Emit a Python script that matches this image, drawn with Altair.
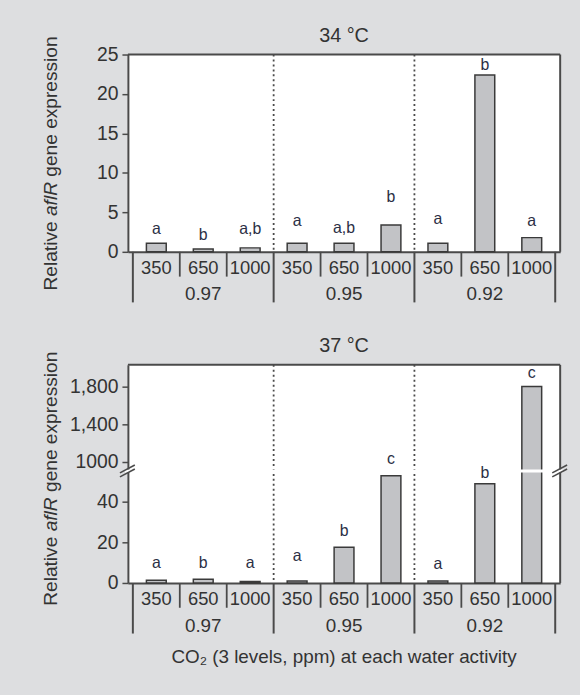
import altair as alt
import pandas as pd

# ---------------- data ----------------
groups = ["0.97", "0.95", "0.92"]
co2_levels = ["350", "650", "1000"]

vals_34 = [1.1, 0.35, 0.5, 1.1, 1.1, 3.4, 1.1, 22.4, 1.8]
letters_34 = ["a", "b", "a,b", "a", "a,b", "b", "a", "b", "a"]
letter_at_34 = [2.9, 2.1, 2.9, 3.9, 3.0, 7.0, 4.1, 23.7, 3.9]

vals_37 = [1.3, 1.8, 0.7, 1.0, 17.6, 52.7, 1.0, 48.8, 1800]
letters_37 = ["a", "b", "a", "a", "b", "c", "a", "b", "c"]
letter_at_37 = [9.8, 9.8, 9.8, 13.2, 25.4, 1030, 9.3, 54, 1947]

ticks_34 = [0, 5, 10, 15, 20, 25]
ticks_37 = [0, 20, 40, 1000, 1400, 1800]

FONT = "Liberation Sans, Arial, sans-serif"
TXT = "#333333"
LET = "#2b2f45"
LINE = "#4a4a4a"
BG = "#dddee0"
W = 436
YT = 19.3  # y-title font size


def panel(title, vals, letters, letter_at, ticks, H, yscale, ybot, label_expr=None, brk=None, xtitle=None):
    n = len(vals)
    df = pd.DataFrame({
        "slot": [i + 0.5 for i in range(n)],
        "value": vals,
        "letter": letters,
        "letter_at": letter_at,
        "co2": [co2_levels[i % 3] for i in range(n)],
    })
    gdf = pd.DataFrame({"gx": [g * 3 + 1.5 for g in range(len(groups))], "group": groups})
    dotted = pd.DataFrame({"b": [3, 6]})
    short_b = pd.DataFrame({"b": [b for b in range(1, 9) if b % 3 != 0]})
    long_b = pd.DataFrame({"b": [0, 3, 6, 9]})
    one = pd.DataFrame({"k": [0]})

    xs = alt.Scale(domain=[0, 9], nice=False, zero=False)
    yax = dict(values=ticks, title=None, grid=False, tickSize=6, tickWidth=1.5,
               tickColor=LINE, domainColor=LINE, domainWidth=2, labelOverlap=False,
               labelFont=FONT, labelFontSize=19.5, labelColor=TXT, labelPadding=4)
    if label_expr:
        yax["labelExpr"] = label_expr
    XA = alt.Axis(domain=True, domainColor=LINE, domainWidth=2, ticks=False,
                  labels=False, title=None, grid=False)
    YA = alt.Axis(**yax)

    def X(f):
        return alt.X(f, scale=xs, axis=XA)

    def Y(f):
        return alt.Y(f, scale=yscale, axis=YA)

    bars = alt.Chart(df).mark_bar(size=20, fill="#c2c3c6", stroke="#3a3a3a", strokeWidth=1.5).encode(
        x=X("slot:Q"), y=Y("value:Q"))
    lets = alt.Chart(df).mark_text(font=FONT, fontSize=16, color=LET, baseline="middle").encode(
        x=X("slot:Q"), y=Y("letter_at:Q"), text="letter:N")
    dots = alt.Chart(dotted).mark_rule(color=LINE, strokeWidth=1.8, strokeDash=[2, 3]).encode(
        x=X("b:Q"), y=alt.value(0), y2=alt.value(H))
    shorts = alt.Chart(short_b).mark_rule(color=LINE, strokeWidth=1.8).encode(
        x=X("b:Q"), y=alt.value(H), y2=alt.value(H + 25))
    longs = alt.Chart(long_b).mark_rule(color=LINE, strokeWidth=2).encode(
        x=X("b:Q"), y=alt.value(H), y2=alt.value(H + 51))
    co2t = alt.Chart(df).mark_text(font=FONT, fontSize=18.5, color=TXT, baseline="middle").encode(
        x=X("slot:Q"), y=alt.value(H + 16), text="co2:N")
    grpt = alt.Chart(gdf).mark_text(font=FONT, fontSize=19, color=TXT, baseline="middle").encode(
        x=X("gx:Q"), y=alt.value(H + 43), text="group:N")
    topr = alt.Chart(one).mark_rule(color=LINE, strokeWidth=2).encode(
        x=alt.value(0), x2=alt.value(W), y=alt.value(0))
    rightr = alt.Chart(one).mark_rule(color=LINE, strokeWidth=2).encode(
        x=alt.value(W), y=alt.value(0), y2=alt.value(H))
    ttl = alt.Chart(one).mark_text(font=FONT, fontSize=20, color=TXT, baseline="middle").encode(
        x=alt.value(W / 2), y=alt.value(-19), text=alt.value(title))

    # y title pieces (Relative / aflR italic / gene expression), reading upward
    w_rel = 3.612 * YT
    w_sp = 0.278 * YT
    w_afl = 1.778 * YT
    t1 = alt.Chart(one).mark_text(font=FONT, fontSize=YT, color=TXT, angle=270, align="left",
                                  baseline="middle").encode(x=alt.value(-78), y=alt.value(ybot), text=alt.value("Relative"))
    t2 = alt.Chart(one).mark_text(font=FONT, fontSize=YT, color=TXT, angle=270, align="left",
                                  baseline="middle", fontStyle="italic").encode(
        x=alt.value(-78), y=alt.value(ybot - w_rel - w_sp), text=alt.value("aflR"))
    t3 = alt.Chart(one).mark_text(font=FONT, fontSize=YT, color=TXT, angle=270, align="left",
                                  baseline="middle").encode(
        x=alt.value(-78), y=alt.value(ybot - w_rel - w_afl - 2 * w_sp), text=alt.value("gene expression"))

    layers = [bars, dots, shorts, longs, co2t, grpt, topr, rightr, ttl, t1, t2, t3]
    if brk is not None:
        mask = alt.Chart(one).mark_rule(color="white", strokeWidth=3).encode(
            x=alt.value(-3), x2=alt.value(W + 3), y=alt.value(brk), y2=alt.value(brk))
        layers.append(mask)
        for cx in (0, W):
            for d in (-2, 2):
                layers.append(alt.Chart(one).mark_rule(color=LINE, strokeWidth=1.6).encode(
                    x=alt.value(cx - 8), x2=alt.value(cx + 7),
                    y=alt.value(brk + d + 4), y2=alt.value(brk + d - 4)))
    layers.append(lets)
    if xtitle:
        layers.append(alt.Chart(one).mark_text(font=FONT, fontSize=19, color=TXT, baseline="middle").encode(
            x=alt.value(W / 2), y=alt.value(H + 75), text=alt.value(xtitle)))

    return alt.layer(*layers).properties(width=W, height=H)


H1 = 199
H2 = 220
ys1 = alt.Scale(domain=[0, 25], nice=False, zero=True)
ys2 = alt.Scale(domain=[0, 55.1, 905, 2031], range=[H2, 107, 107, 0], nice=False, zero=False)

top = panel("34 °C", vals_34, letters_34, letter_at_34, ticks_34, H1, ys1, ybot=238)
bottom = panel("37 °C", vals_37, letters_37, letter_at_37, ticks_37, H2, ys2, ybot=243,
               label_expr="datum.value == 1000 ? '1000' : format(datum.value, ',')",
               brk=107, xtitle="CO₂ (3 levels, ppm) at each water activity")

chart = alt.vconcat(top, bottom, spacing=32).properties(
    background=BG,
    padding={"left": 41, "top": 23, "right": 12, "bottom": 25},
).configure_view(stroke=None, fill="white")

chart.save("out.html", embed_options={"renderer": "svg", "actions": False})
